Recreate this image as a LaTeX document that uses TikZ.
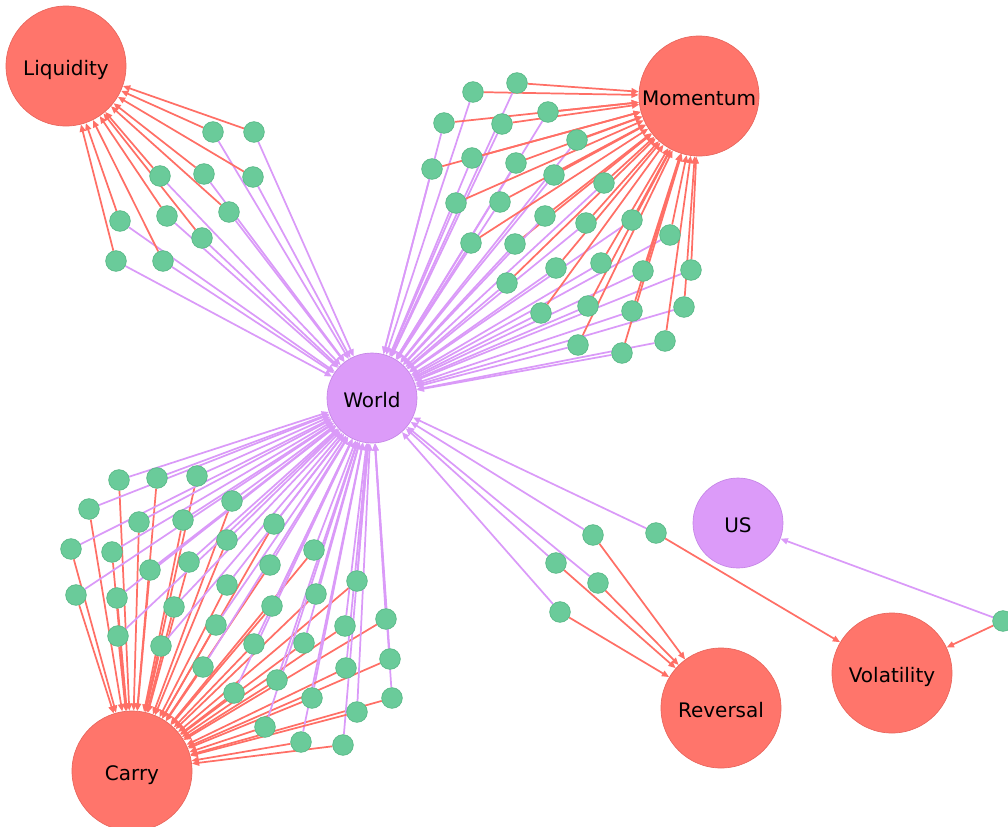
\documentclass[tikz,border=0pt]{standalone}
\usepackage{fontspec}
\setmainfont{DejaVu Sans}
\usetikzlibrary{arrows.meta,backgrounds}
\definecolor{rfill}{HTML}{FF756B}
\definecolor{rdraw}{HTML}{E8655C}
\definecolor{pfill}{HTML}{DC9BF9}
\definecolor{pdraw}{HTML}{C585E6}
\definecolor{gfill}{HTML}{6ACB9A}
\definecolor{gdraw}{HTML}{58B886}
\definecolor{redge}{HTML}{FF6F66}
\definecolor{pedge}{HTML}{DA9AF8}
\begin{document}
\begin{tikzpicture}[x=0.75pt,y=-0.75pt,
  gn/.style={circle,fill=gfill,draw=gdraw,line width=0.5pt,minimum size=15.5pt,inner sep=0pt},
  bign/.style={circle,line width=0.5pt,inner sep=0pt,text height=14.2pt,text depth=0pt,font=\fontsize{15}{18}\selectfont},
  rn/.style={bign,fill=rfill,draw=rdraw,minimum size=90pt},
  pn/.style={bign,fill=pfill,draw=pdraw,minimum size=67.5pt},
  re/.style={draw=redge,line width=1.3pt,-{Triangle[length=5.5pt,width=4.5pt]}},
  pe/.style={draw=pedge,line width=1.3pt,-{Triangle[length=5.5pt,width=4.5pt]}}]
\useasboundingbox (0,0) rectangle (1008,826);
% big nodes
\node[rn] (Liq) at (66,66) {Liquidity};
\node[rn] (Mom) at (699,96) {Momentum};
\node[pn] (World) at (372,398) {World};
\node[pn] (US) at (738,523) {US};
\node[rn] (Carry) at (132,771) {Carry};
\node[rn] (Rev) at (721,708) {Reversal};
\node[rn] (Vol) at (892,673) {Volatility};
% liquidity cluster
\foreach \x/\y [count=\i] in {213/132,254/132,160/176,204/174,253/177,229/212,120/221,167/216,202/238,116/261,163/261}
  {\node[gn] (l\i) at (\x,\y) {};}
% momentum cluster
\foreach \x/\y [count=\i] in {473/92,517/83,444/123,502/124,548/112,432/169,472/158,516/163,577/140,456/203,500/202,554/175,604/183,471/243,515/244,545/216,586/223,632/220,670/235,507/283,556/268,601/263,643/271,691/270,541/313,588/306,632/311,684/307,578/345,622/353,665/341}
  {\node[gn] (m\i) at (\x,\y) {};}
% carry cluster
\foreach \x/\y [count=\i] in {119/480,157/478,197/476,89/509,139/522,183/520,232/501,71/549,112/552,150/570,189/562,227/540,274/524,76/595,117/598,174/607,227/585,270/565,314/550,118/636,161/646,216/625,272/606,316/594,357/581,203/667,254/644,304/643,345/626,386/619,234/693,277/680,312/698,346/668,390/659,392/698,265/727,301/742,343/745,357/712}
  {\node[gn] (c\i) at (\x,\y) {};}
% reversal cluster
\foreach \x/\y [count=\i] in {593/535,556/563,598/583,560/612}
  {\node[gn] (r\i) at (\x,\y) {};}
\node[gn] (v1) at (656,533) {};
\node[gn] (v2) at (1003,621) {};
\begin{pgfonlayer}{background}
\foreach \i in {1,...,11} {\draw[pe] (l\i) -- (World); \draw[re] (l\i) -- (Liq);}
\foreach \i in {1,...,31} {\draw[pe] (m\i) -- (World); \draw[re] (m\i) -- (Mom);}
\foreach \i in {1,...,40} {\draw[pe] (c\i) -- (World); \draw[re] (c\i) -- (Carry);}
\foreach \i in {1,...,4} {\draw[pe] (r\i) -- (World); \draw[re] (r\i) -- (Rev);}
\draw[pe] (v1) -- (World); \draw[re] (v1) -- (Vol);
\draw[pe] (v2) -- (US); \draw[re] (v2) -- (Vol);
\end{pgfonlayer}
\end{tikzpicture}
\end{document}
